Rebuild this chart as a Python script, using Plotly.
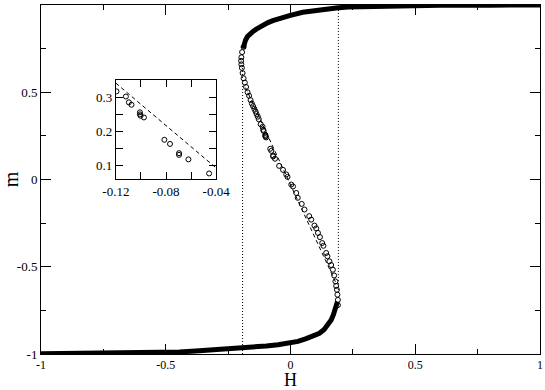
import plotly.graph_objects as go

# lower stable branch (thick)
low_h = [-1.0, -0.9, -0.8, -0.7, -0.6, -0.5, -0.445, -0.38, -0.311, -0.25, -0.191,
         -0.14, -0.097, -0.05, -0.004, 0.03, 0.063, 0.09, 0.116, 0.135, 0.15, 0.163,
         0.172, 0.179, 0.184, 0.188]
low_m = [-0.998, -0.997, -0.997, -0.996, -0.994, -0.991, -0.988, -0.983, -0.977, -0.972, -0.966,
         -0.96, -0.954, -0.947, -0.94, -0.928, -0.912, -0.898, -0.881, -0.86, -0.835, -0.805,
         -0.775, -0.745, -0.72, -0.70]

# upper stable branch (thick)
up_h = [-0.19, -0.186, -0.18, -0.172, -0.164, -0.15, -0.137, -0.111, -0.09, -0.071, -0.04,
        -0.004, 0.049, 0.116, 0.183, 0.23, 0.3, 0.4, 0.5, 0.6, 0.8, 1.0]
up_m = [0.75, 0.775, 0.80, 0.82, 0.833, 0.849, 0.862, 0.885, 0.899, 0.91, 0.925,
        0.939, 0.958, 0.973, 0.983, 0.989, 0.992, 0.995, 0.997, 0.998, 0.999, 1.0]

# unstable branch (open circles)
mid_h = [-0.188, -0.194, -0.197, -0.198, -0.197, -0.195, -0.192, -0.188, -0.183, -0.178,
         -0.172, -0.166, -0.160, -0.155, -0.150, -0.145, -0.140, -0.136, -0.131, -0.127,
         -0.1195, -0.112, -0.1096, -0.1075, -0.1008, -0.1008, -0.1003, -0.0976, -0.0813,
         -0.0768, -0.0696, -0.0696, -0.0621, -0.0456, -0.030, -0.017, -0.012, 0.003, 0.010,
         0.023, 0.029, 0.045, 0.056, 0.075, 0.083, 0.096, 0.103, 0.110, 0.118, 0.127, 0.132,
         0.143, 0.148, 0.156, 0.163, 0.170, 0.175, 0.180, 0.183, 0.186, 0.188, 0.190, 0.190]
mid_m = [0.76, 0.73, 0.70, 0.68, 0.66, 0.64, 0.61, 0.58, 0.555, 0.53,
         0.50, 0.48, 0.455, 0.435, 0.42, 0.405, 0.39, 0.375, 0.36, 0.345,
         0.317, 0.302, 0.285, 0.278, 0.256, 0.250, 0.246, 0.241, 0.176,
         0.164, 0.137, 0.132, 0.119, 0.078, 0.055, 0.029, 0.015, -0.029, -0.04,
         -0.077, -0.105, -0.14, -0.172, -0.21, -0.23, -0.264, -0.28, -0.306, -0.33, -0.364, -0.38,
         -0.421, -0.44, -0.469, -0.49, -0.517, -0.55, -0.584, -0.61, -0.632, -0.66, -0.69, -0.72]

# straight dashed line through the middle
fit_h = [-0.18, 0.18]
fit_m = [0.526, -0.586]

# dotted spinodal lines
spl_h = [-0.192, -0.192]
spl_m = [-1.0, 0.65]
spr_h = [0.192, 0.192]
spr_m = [-0.65, 1.0]

# inset
ins_h = [-0.1195, -0.112, -0.1096, -0.1075, -0.1008, -0.1008, -0.1003, -0.0976,
         -0.0813, -0.0768, -0.0696, -0.0696, -0.0621, -0.0456]
ins_m = [0.317, 0.302, 0.285, 0.278, 0.256, 0.250, 0.246, 0.241,
         0.176, 0.164, 0.137, 0.132, 0.119, 0.078]
ins_fit_h = [-0.12, -0.04]
ins_fit_m = [0.341, 0.094]

x_ticks = [-1, -0.5, 0, 0.5, 1]
x_text = ["-1", "-0.5", "0", "0.5", "1"]
y_ticks = [-1, -0.5, 0, 0.5, 1]
y_text = ["-1", "-0.5", "0", "0.5", "1"]
minor_ticks = [-0.75, -0.25, 0.25, 0.75]
ins_x_ticks = [-0.12, -0.08, -0.04]
ins_x_text = ["-0.12", "-0.08", "-0.04"]
ins_x_minor = [-0.1, -0.06]
ins_y_ticks = [0.1, 0.2, 0.3]
ins_y_text = ["0.1", "0.2", "0.3"]
ins_y_minor = [0.15, 0.25]

serif = "Liberation Serif"

fig = go.Figure()
fig.add_trace(go.Scatter(x=spl_h, y=spl_m, mode="lines", line=dict(color="black", width=1, dash="1px,2px")))
fig.add_trace(go.Scatter(x=spr_h, y=spr_m, mode="lines", line=dict(color="black", width=1, dash="1px,2px")))
fig.add_trace(go.Scatter(x=fit_h, y=fit_m, mode="lines", line=dict(color="black", width=1, dash="4px,3px")))
fig.add_trace(go.Scatter(x=low_h, y=low_m, mode="lines", line=dict(color="black", width=5)))
fig.add_trace(go.Scatter(x=up_h, y=up_m, mode="lines", line=dict(color="black", width=5)))
fig.add_trace(go.Scatter(x=mid_h, y=mid_m, mode="markers",
                         marker=dict(symbol="circle-open", size=5, color="black", line=dict(width=1))))

fig.add_trace(go.Scatter(x=ins_fit_h, y=ins_fit_m, mode="lines", xaxis="x2", yaxis="y2",
                         line=dict(color="black", width=1, dash="4px,3px")))
fig.add_trace(go.Scatter(x=ins_h, y=ins_m, mode="markers", xaxis="x2", yaxis="y2",
                         marker=dict(symbol="circle-open", size=5, color="black", line=dict(width=1))))

axis_common = dict(showline=True, linecolor="black", linewidth=1, mirror="ticks",
                   ticks="inside", tickcolor="black", tickwidth=1, showgrid=False,
                   zeroline=False, tickfont=dict(family=serif, size=13, color="black"))

fig.update_layout(
    width=545, height=390,
    margin=dict(l=41, r=5, t=5, b=36),
    paper_bgcolor="white", plot_bgcolor="white",
    font=dict(family=serif, size=13, color="black"),
    showlegend=False,
    xaxis=dict(range=[-1, 1], tickmode="array", tickvals=x_ticks, ticktext=x_text, ticklen=10,
               minor=dict(tickmode="array", tickvals=minor_ticks, ticklen=5, ticks="inside", tickcolor="black"),
               automargin=False, **{**axis_common, "tickfont": dict(family=serif, size=12, color="black")}),
    yaxis=dict(range=[-1, 1], tickmode="array", tickvals=y_ticks, ticktext=y_text, ticklen=10,
               minor=dict(tickmode="array", tickvals=minor_ticks, ticklen=5, ticks="inside", tickcolor="black"),
               title=dict(text="m", font=dict(family=serif, size=20, color="black"), standoff=2),
               automargin=False, **axis_common),
    xaxis2=dict(domain=[0.150, 0.351], anchor="y2", range=[-0.12, -0.04], tickmode="array",
                tickvals=ins_x_ticks, ticktext=ins_x_text, ticklen=7,
                minor=dict(tickmode="array", tickvals=ins_x_minor, ticklen=7, ticks="inside", tickcolor="black"),
                automargin=False, **axis_common),
    yaxis2=dict(domain=[0.5006, 0.785], anchor="x2", range=[0.061, 0.35], tickmode="array",
                tickvals=ins_y_ticks, ticktext=ins_y_text, ticklen=7,
                minor=dict(tickmode="array", tickvals=ins_y_minor, ticklen=7, ticks="inside", tickcolor="black"),
                automargin=False, **axis_common),
)

# x axis title as an annotation, pinned to the bottom edge of the page
fig.add_annotation(text="H", xref="x", yref="paper", x=0, y=-37 / 349, yanchor="bottom",
                   showarrow=False, borderpad=0, font=dict(family=serif, size=18, color="black"))

fig.write_html("out.html", config={"displayModeBar": False},
               post_script="document.body.style.margin='0';")
